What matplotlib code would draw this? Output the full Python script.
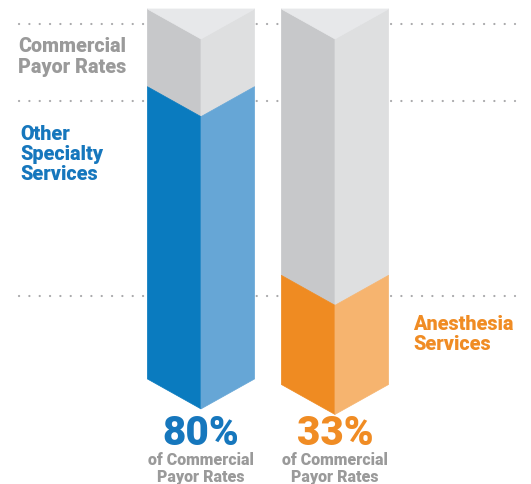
import matplotlib
matplotlib.use("Agg")
import matplotlib.pyplot as plt
from matplotlib.patches import Polygon

# ---- data ----
categories = ["Other Specialty Services", "Anesthesia Services"]
pct_labels = ["80%", "33%"]
fill_level = [79, 28]          # visible fill height as % of the full (commercial) bar
full_level = 100               # commercial payor rate = full bar
grid_levels = [96, 75, 22.5]   # dotted guide lines

sub_label = "of Commercial\nPayor Rates"

# ---- style ----
dark = ["#0a7bbf", "#ef8b22"]
light = ["#66a6d6", "#f6b46f"]
gray_left, gray_right, gray_top = "#c7c8ca", "#dedfe0", "#e7e8ea"
label_colors = ["#1677bd", "#f08c24"]
gray_text = "#9a9a9a"
base_shift = [0.0, -1.5]       # slight perspective drop of the second bar's foot

plt.rcParams["font.family"] = ["Roboto", "DejaVu Sans"]

fig = plt.figure(figsize=(5.31, 4.85), dpi=100)
ax = fig.add_axes([0, 0, 1, 1])
ax.set_xlim(-1.5, 2.463)
ax.set_ylim(-28.4, 102.7)
ax.axis("off")

w = 0.4
d = 8.1

# dotted guides
for g in grid_levels:
    ax.plot([-1.36, 2.34], [g, g], color="#a9a9ab", lw=1.6,
            linestyle=(0, (0.05, 4.6)), zorder=1,
            dash_capstyle="round")

for i, f in enumerate(fill_level):
    c = i
    top = full_level
    b = base_shift[i]
    polys = [
        # gray upper faces
        ([(c - w, f), (c - w, top), (c, top - d), (c, f - d)], gray_left),
        ([(c, f - d), (c, top - d), (c + w, top), (c + w, f)], gray_right),
        ([(c - w, top), (c + w, top), (c, top - d)], gray_top),
        # colored faces
        ([(c - w, b), (c - w, f), (c, f - d), (c, b - d)], dark[i]),
        ([(c, b - d), (c, f - d), (c + w, f), (c + w, b)], light[i]),
    ]
    for pts, col in polys:
        ax.add_patch(Polygon(pts, closed=True, facecolor=col, edgecolor=col,
                             lw=0.5, zorder=3))
    ax.text(c, -17.6, pct_labels[i], ha="center", va="baseline",
            fontsize=29, fontweight=900, color=label_colors[i], zorder=4)
    ax.text(c, -19.6, sub_label, ha="center", va="top",
            fontsize=11.5, fontweight=900, color=gray_text,
            linespacing=1.08, zorder=4)

# side labels
ax.text(-1.365, 87.3, "Commercial\nPayor Rates", ha="left", va="center",
        fontsize=14.2, fontweight=900, color=gray_text, linespacing=1.08)
ax.text(-1.35, 61.0, "Other\nSpecialty\nServices", ha="left", va="center",
        fontsize=14.2, fontweight=900, color=label_colors[0], linespacing=1.08)
ax.text(1.585, 12.3, "Anesthesia\nServices", ha="left", va="center",
        fontsize=14.2, fontweight=900, color=label_colors[1], linespacing=1.08)

fig.savefig("out.png", dpi=100)
